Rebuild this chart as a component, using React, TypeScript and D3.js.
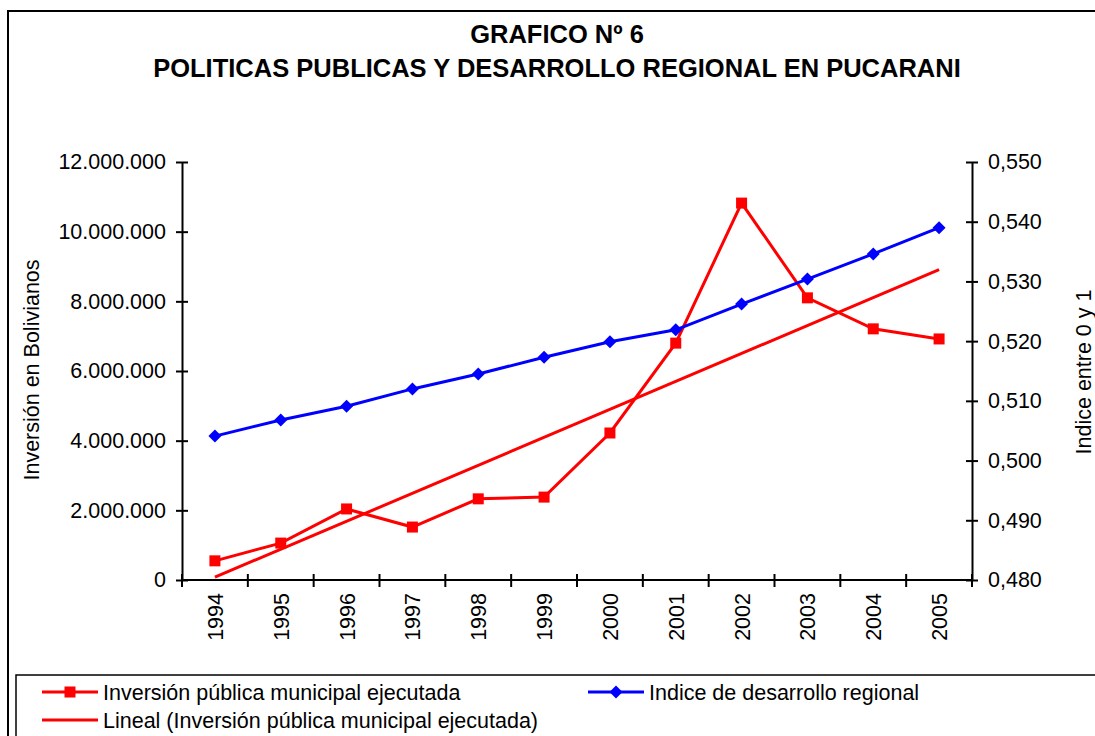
import React, { useEffect, useRef } from 'react';
import * as d3 from 'd3';

const years = ['1994', '1995', '1996', '1997', '1998', '1999', '2000', '2001', '2002', '2003', '2004', '2005'];
// Inversión pública municipal ejecutada (Bs)
const inversion = [550000, 1060000, 2040000, 1520000, 2330000, 2380000, 4220000, 6800000, 10820000, 8100000, 7210000, 6920000];
// Indice de desarrollo regional
const indice = [0.5041, 0.5068, 0.5091, 0.5120, 0.5145, 0.5173, 0.5199, 0.5219, 0.5262, 0.5304, 0.5346, 0.5390];

const leftTicks = [0, 2000000, 4000000, 6000000, 8000000, 10000000, 12000000];
const rightTicks = [0.48, 0.49, 0.5, 0.51, 0.52, 0.53, 0.54, 0.55];

const titleLines = ['GRAFICO Nº 6', 'POLITICAS PUBLICAS Y DESARROLLO REGIONAL EN PUCARANI'];
const leftTitle = 'Inversión en Bolivianos';
const rightTitle = 'Indice entre 0 y 1';
const legendLabels = [
  'Inversión pública municipal ejecutada',
  'Indice de desarrollo regional',
  'Lineal (Inversión pública municipal ejecutada)',
];

const RED = '#ff0000';
const BLUE = '#0000ff';
const FONT = '"Liberation Sans", Arial, sans-serif';
const FS = '21.5px';

const esLocale = d3.formatLocale({ decimal: ',', thousands: '.', grouping: [3], currency: ['', ''] });
const fmtLeft = esLocale.format(',.0f');
const fmtRight = esLocale.format(',.3f');

const App = () => {
  const ref = useRef<SVGSVGElement>(null);
  const width = 1095;
  const height = 736;

  useEffect(() => {
    const svg = d3.select(ref.current);
    svg.selectAll('*').remove();

    const plot = { left: 182, right: 972, top: 162, bottom: 580 };

    const x = d3.scaleBand().domain(years).range([plot.left, plot.right]);
    const yL = d3.scaleLinear().domain([0, 12000000]).range([plot.bottom, plot.top]);
    const yR = d3.scaleLinear().domain([0.48, 0.55]).range([plot.bottom, plot.top]);
    const cx = (d: string) => (x(d) as number) + x.bandwidth() / 2;

    // outer frame
    svg.append('rect')
      .attr('x', 8).attr('y', 11)
      .attr('width', width).attr('height', height)
      .attr('fill', 'white').attr('stroke', 'black').attr('stroke-width', 2);

    // titles
    svg.selectAll('.title')
      .data(titleLines)
      .enter().append('text')
      .attr('x', 557)
      .attr('y', (d, i) => 43 + i * 34)
      .attr('text-anchor', 'middle')
      .style('font-family', FONT)
      .style('font-size', '25.5px')
      .style('font-weight', 'bold')
      .text(d => d);

    // left axis
    const gL = svg.append('g')
      .attr('transform', `translate(${plot.left},0)`)
      .call(d3.axisLeft(yL).tickValues(leftTicks).tickFormat(d => fmtLeft(d as number)).tickSizeOuter(0).tickPadding(10));
    gL.selectAll('.tick line').attr('x1', 6).attr('x2', -6);

    // right axis
    const gR = svg.append('g')
      .attr('transform', `translate(${plot.right},0)`)
      .call(d3.axisRight(yR).tickValues(rightTicks).tickFormat(d => fmtRight(d as number)).tickSizeOuter(0).tickPadding(10));
    gR.selectAll('.tick line').attr('x1', -6).attr('x2', 6);

    [gL, gR].forEach(g => {
      g.select('.domain').attr('stroke', 'black').attr('stroke-width', 2);
      g.selectAll('.tick line').attr('stroke', 'black').attr('stroke-width', 2);
      g.selectAll('.tick text')
        .style('font-family', FONT)
        .style('font-size', FS)
        .attr('fill', 'black');
    });

    // x axis line
    svg.append('line')
      .attr('x1', plot.left).attr('x2', plot.right)
      .attr('y1', plot.bottom).attr('y2', plot.bottom)
      .attr('stroke', 'black').attr('stroke-width', 2);

    // x ticks on category boundaries
    const bounds = years.map(d => x(d) as number).concat([plot.right]);
    svg.selectAll('.xtick')
      .data(bounds)
      .enter().append('line')
      .attr('x1', d => d).attr('x2', d => d)
      .attr('y1', plot.bottom - 6).attr('y2', plot.bottom + 7)
      .attr('stroke', 'black').attr('stroke-width', 2);

    svg.selectAll('.xlabel')
      .data(years)
      .enter().append('text')
      .attr('transform', d => `translate(${cx(d) + 8},${plot.bottom + 13}) rotate(-90)`)
      .attr('text-anchor', 'end')
      .style('font-family', FONT)
      .style('font-size', FS)
      .text(d => d);

    // axis titles
    svg.append('text')
      .attr('transform', `translate(${39},${370}) rotate(-90)`)
      .attr('text-anchor', 'middle')
      .style('font-family', FONT)
      .style('font-size', FS)
      .text(leftTitle);

    svg.append('text')
      .attr('transform', `translate(${1091},${372}) rotate(-90)`)
      .attr('text-anchor', 'middle')
      .style('font-family', FONT)
      .style('font-size', FS)
      .text(rightTitle);

    // linear trend of inversion
    const n = inversion.length;
    const mx = d3.mean(d3.range(n)) as number;
    const my = d3.mean(inversion) as number;
    const slope = d3.sum(inversion, (v, i) => (i - mx) * (v - my)) / d3.sum(d3.range(n), i => (i - mx) ** 2);
    const icpt = my - slope * mx;

    const lineL = d3.line<number>().x((d, i) => cx(years[i])).y(d => yL(d));
    const lineR = d3.line<number>().x((d, i) => cx(years[i])).y(d => yR(d));

    svg.append('path')
      .attr('d', lineL(inversion))
      .attr('fill', 'none').attr('stroke', RED).attr('stroke-width', 3);

    svg.selectAll('.sq')
      .data(inversion)
      .enter().append('rect')
      .attr('x', (d, i) => cx(years[i]) - 5.5)
      .attr('y', d => yL(d) - 5.5)
      .attr('width', 11).attr('height', 11)
      .attr('fill', RED);

    svg.append('line')
      .attr('x1', cx(years[0])).attr('y1', yL(icpt))
      .attr('x2', cx(years[n - 1])).attr('y2', yL(icpt + slope * (n - 1)))
      .attr('stroke', RED).attr('stroke-width', 3);

    svg.append('path')
      .attr('d', lineR(indice))
      .attr('fill', 'none').attr('stroke', BLUE).attr('stroke-width', 3);

    const diamond = (px: number, py: number, r: number) =>
      `M${px},${py - r}L${px + r},${py}L${px},${py + r}L${px - r},${py}Z`;

    svg.selectAll('.dm')
      .data(indice)
      .enter().append('path')
      .attr('d', (d, i) => diamond(cx(years[i]), yR(d), 6.5))
      .attr('fill', BLUE);

    // legend
    const leg = svg.append('g');
    leg.append('rect')
      .attr('x', 16).attr('y', 675)
      .attr('width', width).attr('height', 100)
      .attr('fill', 'white').attr('stroke', 'black').attr('stroke-width', 1.5);

    const items = [
      { x: 42, y: 692, color: RED, marker: 'square', label: legendLabels[0] },
      { x: 588, y: 692, color: BLUE, marker: 'diamond', label: legendLabels[1] },
      { x: 42, y: 720, color: RED, marker: 'none', label: legendLabels[2] },
    ];
    items.forEach(it => {
      leg.append('line')
        .attr('x1', it.x).attr('x2', it.x + 56)
        .attr('y1', it.y).attr('y2', it.y)
        .attr('stroke', it.color).attr('stroke-width', 3);
      if (it.marker === 'square') {
        leg.append('rect')
          .attr('x', it.x + 28 - 5.5).attr('y', it.y - 5.5)
          .attr('width', 11).attr('height', 11).attr('fill', it.color);
      } else if (it.marker === 'diamond') {
        leg.append('path').attr('d', diamond(it.x + 28, it.y, 6.5)).attr('fill', it.color);
      }
      leg.append('text')
        .attr('x', it.x + 61).attr('y', it.y)
        .attr('dy', '0.35em')
        .style('font-family', FONT)
        .style('font-size', FS)
        .text(it.label);
    });
  }, []);

  return (
    <svg
      ref={ref}
      width={width}
      height={height}
      style={{ position: 'absolute', left: 0, top: 0, background: 'white' }}
    />
  );
};

export default App;
